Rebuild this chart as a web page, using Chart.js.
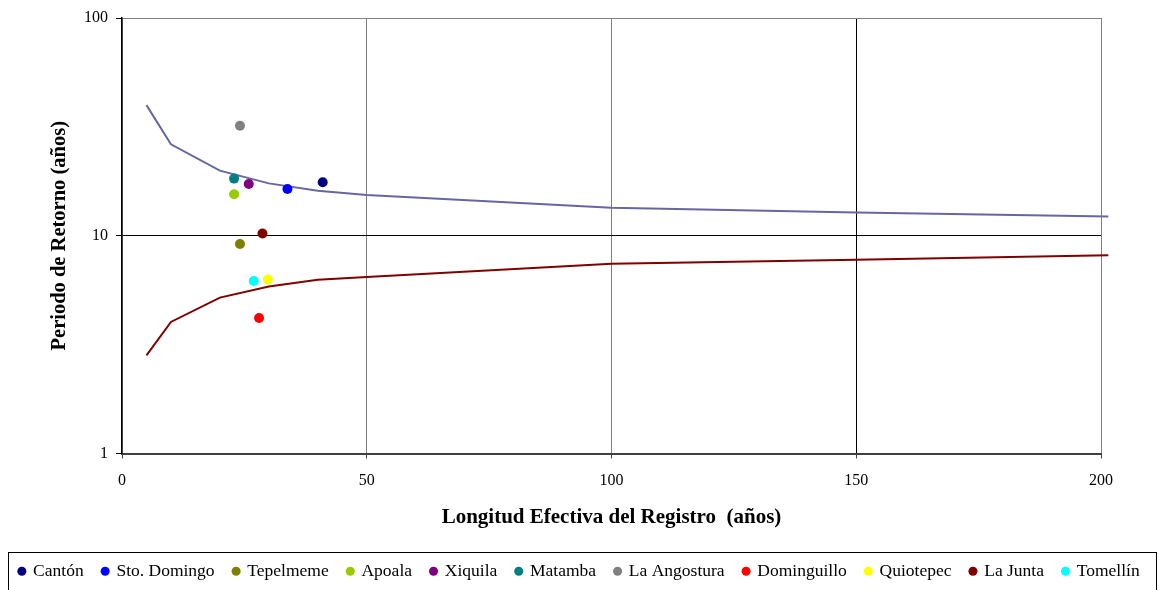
<!DOCTYPE html>
<html>
<head>
<meta charset="utf-8">
<script src="https://cdn.jsdelivr.net/npm/chart.js@4"></script>
<style>
  html, body { margin: 0; padding: 0; background: #fff; }
  #wrap { width: 1159px; height: 590px; }
</style>
</head>
<body>
<div id="wrap"><canvas id="c" width="1159" height="590"></canvas></div>
<script>
// Estaciones hidrométricas: longitud efectiva del registro vs periodo de retorno
const stations = ['Cantón', 'Sto. Domingo', 'Tepelmeme', 'Apoala', 'Xiquila', 'Matamba',
  'La Angostura', 'Dominguillo', 'Quiotepec', 'La Junta', 'Tomellín'];
const recordLength = [41.0, 33.8, 24.1, 22.9, 25.9, 22.9, 24.1, 28.0, 29.8, 28.7, 26.9];
const returnPeriod = [17.6, 16.4, 9.16, 15.5, 17.3, 18.3, 32.0, 4.19, 6.3, 10.25, 6.2];
const stationColors = ['#000080', '#0000FF', '#808000', '#99CC00', '#800080', '#008080',
  '#808080', '#FF0000', '#FFFF00', '#800000', '#00FFFF'];

// Curvas límite (superior e inferior)
const curveLength = [5, 10, 20, 30, 40, 50, 100, 150, 201.5];
const upperLimit = [39.8, 26.3, 19.9, 17.4, 16.1, 15.37, 13.44, 12.79, 12.25];
const lowerLimit = [2.82, 4.02, 5.2, 5.85, 6.28, 6.47, 7.44, 7.76, 8.13];

const xTicks = [0, 50, 100, 150, 200];
const yTicks = [1, 10, 100];

const serif = "'Liberation Serif', 'Times New Roman', serif";

const datasets = [];
stations.forEach((name, i) => {
  datasets.push({
    label: name,
    type: 'scatter',
    data: [{ x: recordLength[i], y: returnPeriod[i] }],
    backgroundColor: stationColors[i],
    borderColor: stationColors[i],
    pointRadius: 5,
    pointHoverRadius: 5,
    pointBorderWidth: 0,
    pointStyle: 'circle'
  });
});
datasets.push({
  label: 'superior',
  type: 'line',
  data: curveLength.map((x, i) => ({ x, y: upperLimit[i] })),
  borderColor: '#6666A3',
  borderWidth: 2,
  pointRadius: 0,
  fill: false,
  clip: false,
  tension: 0
});
datasets.push({
  label: 'inferior',
  type: 'line',
  data: curveLength.map((x, i) => ({ x, y: lowerLimit[i] })),
  borderColor: '#800000',
  borderWidth: 2,
  pointRadius: 0,
  fill: false,
  clip: false,
  tension: 0
});

// Recuadro alrededor de la leyenda
const legendFrame = {
  id: 'legendFrame',
  afterDraw(chart) {
    const ctx = chart.ctx;
    ctx.save();
    ctx.strokeStyle = '#000';
    ctx.lineWidth = 1;
    ctx.strokeRect(8.5, 552.5, 1148, 44);
    ctx.restore();
  }
};

const xGridColor = (ctx) => (ctx.tick && ctx.tick.value === 150) ? '#000000' : '#808080';
const yGridColor = (ctx) => (ctx.tick && ctx.tick.value === 10) ? '#000000' : '#808080';

new Chart(document.getElementById('c'), {
  data: { datasets },
  options: {
    responsive: false,
    animation: false,
    events: [],
    layout: { padding: { left: 0, right: 0, top: 18, bottom: 0 } },
    plugins: {
      tooltip: { enabled: false },
      legend: {
        position: 'bottom',
        labels: {
          usePointStyle: true,
          boxWidth: 5,
          boxHeight: 6.4,
          padding: 19,
          color: '#000',
          font: { family: serif, size: 17.5 },
          filter: (item) => item.datasetIndex < stations.length
        }
      }
    },
    scales: {
      x: {
        type: 'linear',
        min: 0,
        max: 200,
        afterBuildTicks: (s) => { s.ticks = xTicks.map(v => ({ value: v })); },
        afterFit: (s) => { s.height = 90; },
        ticks: {
          color: '#000',
          font: { family: serif, size: 16 },
          padding: 13,
          maxRotation: 0
        },
        grid: {
          color: xGridColor,
          lineWidth: 1,
          tickColor: '#404040',
          tickLength: 5,
          drawTicks: true
        },
        border: { color: '#404040', width: 2 },
        title: {
          display: true,
          text: 'Longitud Efectiva del Registro  (años)',
          color: '#000',
          font: { family: serif, size: 21, weight: 'bold' },
          padding: { top: 0, bottom: 13 }
        }
      },
      y: {
        type: 'logarithmic',
        min: 1,
        max: 100,
        afterBuildTicks: (s) => { s.ticks = yTicks.map(v => ({ value: v })); },
        afterFit: (s) => { s.width = 122; },
        ticks: {
          color: '#000',
          font: { family: serif, size: 16 },
          padding: 8,
          callback: (v) => String(v)
        },
        grid: {
          color: yGridColor,
          lineWidth: 1,
          tickColor: '#000',
          tickLength: 6,
          drawTicks: true
        },
        border: { color: '#000', width: 1.5 },
        title: {
          display: true,
          text: 'Periodo de Retorno (años)',
          color: '#000',
          font: { family: serif, size: 20.5, weight: 'bold' },
          padding: { top: 47.7, bottom: 0 }
        }
      },
      // margen derecho del área de trazado
      margin: {
        type: 'linear',
        position: 'right',
        display: true,
        afterFit: (s) => { s.width = 58; },
        ticks: { display: false },
        grid: { display: false, drawTicks: false },
        border: { display: false }
      }
    }
  },
  plugins: [legendFrame]
});
</script>
</body>
</html>
